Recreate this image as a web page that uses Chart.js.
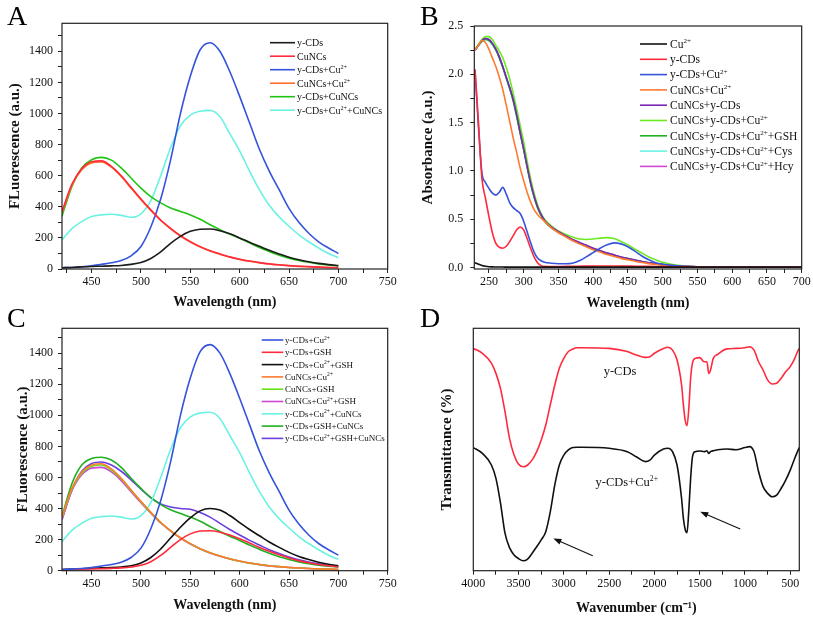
<!DOCTYPE html>
<html>
<head>
<meta charset="utf-8">
<script src="https://cdn.jsdelivr.net/npm/chart.js@4.4.1/dist/chart.umd.min.js"></script>
<style>
  body { margin: 0; background: #fff; }
  #page { position: relative; width: 813px; height: 617px; overflow: hidden; background: #fff; }
  #page canvas { position: absolute; left: 0; top: 0; }
  .tag { position: absolute; font-family: "Liberation Serif", serif; font-size: 28px; line-height: 28px; color: #000; }
</style>
</head>
<body>
<div id="page">
  <canvas id="chartA" width="813" height="617"></canvas>
  <canvas id="chartB" width="813" height="617"></canvas>
  <canvas id="chartC" width="813" height="617"></canvas>
  <canvas id="chartD" width="813" height="617"></canvas>
  <div class="tag" style="left:7px;top:2px">A</div>
  <div class="tag" style="left:420px;top:2px">B</div>
  <div class="tag" style="left:7px;top:304px">C</div>
  <div class="tag" style="left:420px;top:304px">D</div>
</div>
<script>
const SERIF = '"Liberation Serif", "Times New Roman", serif';

// ---- panel A: fluorescence, 420-700 nm ----
const aWave = [420,430,440,450,460,470,480,490,500,510,520,530,540,550,560,570,580,590,600,610,620,630,640,650,660,670,680,690,700];
const aLabels = ['y-CDs', 'CuNCs', 'y-CDs+Cu²⁺', 'CuNCs+Cu²⁺', 'y-CDs+CuNCs', 'y-CDs+Cu²⁺+CuNCs'];
const aCDs      = [8,10,13,16,18,20,23,30,42,68,110,165,210,242,256,257,246,226,200,172,146,120,97,76,60,47,36,28,22];
const aCuNCs    = [370,545,645,690,695,660,600,525,450,380,315,262,215,176,144,118,97,78,63,51,41,33,27,22,18,15,12,10,9];
const aCDsCu    = [8,10,14,20,30,40,55,85,145,270,450,700,1000,1240,1410,1455,1400,1270,1110,940,770,630,510,390,300,230,175,135,100];
const aCuNCsCu  = [360,538,638,682,688,655,595,520,446,376,312,258,212,174,142,116,95,77,62,50,40,32,26,21,17,14,12,10,8];
const aCDsCuNCs = [340,530,650,703,718,700,650,585,520,465,425,392,370,348,320,285,252,225,198,168,138,112,88,70,55,43,33,26,21];
const aAll      = [187,260,305,337,348,352,345,333,355,440,600,780,920,990,1015,1020,980,870,760,630,510,410,335,275,220,175,135,100,73];

// ---- panel B: absorbance ----
const bWave = [230,235,240,245,250,255,260,265,270,275,280,285,290,295,300,305,310,315,320,325,330,
               340,350,360,370,380,390,400,410,420,430,440,450,460,470,480,490,500,
               525,550,600,650,700];
const bLabels = ['Cu²⁺', 'y-CDs', 'y-CDs+Cu²⁺', 'CuNCs+Cu²⁺', 'CuNCs+y-CDs', 'CuNCs+y-CDs+Cu²⁺',
                 'CuNCs+y-CDs+Cu²⁺+GSH', 'CuNCs+y-CDs+Cu²⁺+Cys', 'CuNCs+y-CDs+Cu²⁺+Hcy'];
const bCu = [0.05,0.035,0.022,0.014,0.009,0.007,0.006,0.005,0.005,0.004,0.004,0.004,0.004,0.004,0.004,0.004,0.004,0.004,0.004,0.004,0.004,
             0.004,0.004,0.004,0.004,0.004,0.004,0.004,0.004,0.004,0.004,0.004,0.004,0.004,0.004,0.004,0.004,0.004,
             0.004,0.004,0.004,0.004,0.004];
const bCDs = [2.05,1.5,0.92,0.72,0.53,0.36,0.25,0.21,0.2,0.22,0.27,0.33,0.39,0.42,0.39,0.3,0.2,0.11,0.05,0.02,0.012,
              0.01,0.01,0.012,0.013,0.014,0.015,0.015,0.016,0.016,0.016,0.015,0.015,0.014,0.013,0.012,0.011,0.01,
              0.008,0.006,0.005,0.004,0.004];
const bCDsCu = [2.05,1.45,0.98,0.88,0.82,0.77,0.75,0.78,0.83,0.76,0.67,0.62,0.59,0.56,0.48,0.37,0.26,0.16,0.1,0.07,0.055,
                0.045,0.04,0.04,0.045,0.07,0.11,0.155,0.2,0.235,0.255,0.245,0.215,0.17,0.12,0.08,0.05,0.035,
                0.015,0.008,0.005,0.004,0.004];
const bCuNCsCu = [2.25,2.3,2.35,2.33,2.26,2.17,2.08,1.97,1.84,1.68,1.51,1.34,1.19,1.03,0.9,0.78,0.68,0.6,0.55,0.51,0.48,
                  0.41,0.36,0.32,0.28,0.245,0.215,0.185,0.16,0.135,0.115,0.095,0.08,0.065,0.052,0.041,0.032,0.025,
                  0.012,0.007,0.004,0.003,0.003];
const bCuNCsCDs = [2.25,2.3,2.35,2.37,2.36,2.32,2.26,2.18,2.08,1.97,1.86,1.74,1.58,1.4,1.23,1.05,0.88,0.74,0.63,0.55,0.49,
                   0.42,0.37,0.33,0.29,0.26,0.23,0.2,0.175,0.15,0.13,0.11,0.093,0.078,0.063,0.05,0.04,0.031,
                   0.015,0.008,0.004,0.003,0.003];
const bMix = [2.26,2.31,2.36,2.39,2.39,2.36,2.3,2.24,2.17,2.07,1.95,1.8,1.64,1.47,1.3,1.1,0.92,0.77,0.65,0.56,0.5,
              0.43,0.38,0.345,0.315,0.295,0.29,0.295,0.305,0.31,0.3,0.27,0.235,0.19,0.15,0.11,0.08,0.055,
              0.02,0.008,0.004,0.003,0.003];
const bMixGSH = [2.25,2.3,2.34,2.36,2.35,2.31,2.25,2.17,2.07,1.96,1.85,1.72,1.56,1.39,1.22,1.04,0.87,0.73,0.62,0.54,0.48,
                 0.41,0.365,0.325,0.285,0.255,0.225,0.195,0.17,0.145,0.125,0.105,0.09,0.075,0.06,0.048,0.038,0.03,
                 0.014,0.008,0.004,0.003,0.003];
const bMixCys = [2.25,2.3,2.34,2.36,2.35,2.31,2.25,2.17,2.07,1.96,1.85,1.73,1.57,1.39,1.22,1.04,0.87,0.73,0.62,0.54,0.48,
                 0.41,0.365,0.325,0.285,0.255,0.225,0.195,0.17,0.145,0.125,0.105,0.09,0.075,0.06,0.048,0.038,0.03,
                 0.014,0.008,0.004,0.003,0.003];
const bMixHcy = [2.25,2.3,2.35,2.37,2.36,2.32,2.26,2.18,2.08,1.97,1.86,1.74,1.58,1.4,1.23,1.05,0.88,0.74,0.63,0.55,0.49,
                 0.42,0.37,0.33,0.29,0.26,0.23,0.2,0.175,0.15,0.13,0.11,0.093,0.078,0.063,0.05,0.04,0.031,
                 0.015,0.008,0.004,0.003,0.003];

// ---- panel C: fluorescence with GSH ----
const cWave = aWave;
const cLabels = ['y-CDs+Cu²⁺', 'y-CDs+GSH', 'y-CDs+Cu²⁺+GSH', 'CuNCs+Cu²⁺', 'CuNCs+GSH', 'CuNCs+Cu²⁺+GSH',
                 'y-CDs+Cu²⁺+CuNCs', 'y-CDs+GSH+CuNCs', 'y-CDs+Cu²⁺+GSH+CuNCs'];
const cCDsCu       = [8,10,14,20,30,40,55,85,145,270,450,700,1000,1240,1410,1455,1400,1270,1110,940,770,630,510,390,300,230,175,135,100];
const cCDsGSH      = [5,7,9,11,13,15,18,24,35,58,98,150,200,237,255,257,248,230,205,178,150,125,102,82,65,51,40,32,25];
const cCDsCuGSH    = [8,10,13,16,18,20,24,32,50,85,140,210,280,340,385,400,390,355,310,265,225,185,150,118,92,72,55,42,32];
const cCuNCsCu     = [345,530,635,680,688,655,595,520,446,376,312,258,212,174,142,116,95,77,62,50,40,32,26,21,17,14,12,10,8];
const cCuNCsGSH    = [340,525,628,672,680,648,590,516,443,374,310,257,211,173,141,115,94,76,61,49,40,32,26,21,17,14,12,10,8];
const cCuNCsCuGSH  = [330,515,618,660,665,636,580,508,437,370,307,255,210,172,140,114,93,75,61,49,39,31,25,21,17,14,11,9,8];
const cCDsCuCuNCs  = [187,260,305,337,348,352,345,333,355,440,600,780,920,990,1015,1020,980,870,760,630,510,410,335,275,220,175,135,100,73];
const cCDsGSHCuNCs = [350,560,680,722,730,712,665,595,530,470,425,392,368,345,318,285,252,222,195,165,138,112,90,72,57,45,36,29,23];
const cAll         = [330,520,640,690,700,680,640,585,525,470,430,410,400,395,375,345,305,265,230,195,165,135,110,88,70,56,45,35,27];

// ---- panel D: FTIR (offset traces, arbitrary units) ----
const dWave = [4000,3900,3800,3750,3700,3650,3600,3550,3500,3450,3400,3350,3300,3250,3200,3150,3100,3050,3000,2950,
               2900,2850,2800,2500,2300,2200,2100,2050,2000,1900,1850,1800,1750,1700,1680,1660,1640,1620,1600,1580,
               1550,1500,1450,1420,1400,1380,1350,1300,1200,1100,1000,950,900,850,800,750,700,650,600,550,
               500,450,420,400];
const dLabels = ['y-CDs', 'y-CDs+Cu²⁺'];
const dCDs = [91.7,89.7,85.6,81.4,75.2,65.6,54.6,47.7,43.9,42.9,43.6,45.7,49.1,53.9,60.1,68.4,76.6,83.5,87.6,90.4,
              91.5,92.0,92.0,91.7,90.4,89.0,88.0,88.3,89.7,91.7,92.2,91.0,86.9,76.6,68.4,62.0,59.8,67.0,79.4,85.6,
              87.6,87.9,86.2,86.2,81.4,82.8,87.6,89.3,91.5,91.7,92.0,92.4,91.0,86.2,82.8,78.7,77.0,77.3,79.4,82.1,
              84.2,87.6,90.4,91.7];
const dCDsCu = [50.8,48.4,43.6,38.1,28.0,15.5,9.5,6.5,5.0,4.1,4.8,7.2,9.9,12.7,16.1,24.3,35.4,43.6,47.7,49.8,
                50.8,50.9,50.9,50.5,49.1,47.0,45.0,45.6,47.7,50.2,50.5,49.1,43.6,29.8,21.6,17.0,15.7,25.0,38.1,47.0,
                49.1,49.4,49.1,49.5,48.4,49.1,49.5,49.9,50.2,49.9,50.8,51.2,49.1,40.9,34.7,31.9,30.5,31.2,34.0,37.4,
                41.5,46.4,49.1,50.8];

// ---- helpers ----
const SUP = { '²': '2', '⁺': '+', '⁻': '-', '¹': '1' };

function runsOf(text) {
  const runs = [];
  for (const ch of text) {
    const sup = ch in SUP;
    const c = sup ? SUP[ch] : ch;
    if (runs.length && runs[runs.length - 1].sup === sup) runs[runs.length - 1].t += c;
    else runs.push({ t: c, sup: sup });
  }
  return runs;
}

function richWidth(ctx, text, size) {
  let w = 0;
  runsOf(text).forEach(r => {
    ctx.font = (r.sup ? size * 0.62 : size) + 'px ' + SERIF;
    w += ctx.measureText(r.t).width;
  });
  return w;
}

// draws text with small raised superscripts, y is the baseline
function richText(ctx, text, x, y, size) {
  ctx.textAlign = 'left';
  ctx.textBaseline = 'alphabetic';
  runsOf(text).forEach(r => {
    ctx.font = (r.sup ? size * 0.62 : size) + 'px ' + SERIF;
    ctx.fillText(r.t, x, r.sup ? y - size * 0.38 : y);
    x += ctx.measureText(r.t).width;
  });
}

function series(label, xs, ys, color) {
  return {
    label: label,
    data: xs.map((x, i) => ({ x: x, y: ys[i] })),
    borderColor: color,
    backgroundColor: color,
    borderWidth: 1.6,
    pointRadius: 0,
    cubicInterpolationMode: 'monotone',
    fill: false
  };
}

const frame = {
  id: 'frame',
  afterDraw(chart) {
    const { ctx, chartArea: a } = chart;
    ctx.save();
    ctx.strokeStyle = '#222';
    ctx.lineWidth = 1.2;
    ctx.strokeRect(a.left, a.top, a.right - a.left, a.bottom - a.top);
    ctx.restore();
  }
};

function makeLegend(o) {
  return {
    id: 'panelLegend',
    afterDraw(chart) {
      const ctx = chart.ctx;
      ctx.save();
      chart.data.datasets.forEach((ds, i) => {
        const y = o.y + i * o.row;
        ctx.strokeStyle = ds.borderColor;
        ctx.lineWidth = 1.6;
        ctx.beginPath();
        ctx.moveTo(o.x, y);
        ctx.lineTo(o.x + o.len, y);
        ctx.stroke();
        ctx.fillStyle = '#111';
        richText(ctx, ds.label, o.x + o.len + o.gap, y + o.size * 0.33, o.size);
      });
      ctx.restore();
    }
  };
}

function xAxis(o) {
  return {
    type: 'linear', min: o.min, max: o.max, reverse: !!o.reverse,
    afterFit: s => { s.height = o.h; },
    border: { display: false },
    grid: { drawOnChartArea: false, tickLength: 4, tickColor: '#222', tickWidth: 1 },
    ticks: {
      stepSize: o.step, autoSkip: false, maxRotation: 0, minRotation: 0, includeBounds: false,
      padding: 2, color: '#111', font: { family: SERIF, size: 12 },
      callback: v => (Math.round(v) % o.major === 0 ? String(v) : '')
    },
    title: { display: true, text: o.title, padding: 0, color: '#111', font: { family: SERIF, size: 14, weight: 'bold' } }
  };
}

function yAxis(o) {
  return {
    type: 'linear', min: o.min, max: o.max,
    afterFit: s => { s.width = o.w; },
    border: { display: false },
    grid: { display: o.ticks !== false, drawOnChartArea: false, tickLength: 4, tickColor: '#222', tickWidth: 1 },
    ticks: {
      display: o.ticks !== false,
      stepSize: o.step, autoSkip: false, includeBounds: false,
      padding: o.pad, color: '#111', font: { family: SERIF, size: 12 },
      callback: o.fmt
    },
    title: { display: true, text: o.title, padding: 0, color: '#111', font: { family: SERIF, size: 15, weight: 'bold' } }
  };
}

function makeChart(id, datasets, pad, x, y, plugins) {
  return new Chart(document.getElementById(id), {
    type: 'line',
    data: { datasets: datasets },
    options: {
      responsive: false,
      animation: false,
      devicePixelRatio: 1,
      layout: { padding: pad },
      plugins: { legend: { display: false }, tooltip: { enabled: false } },
      scales: { x: x, y: y }
    },
    plugins: [frame].concat(plugins)
  });
}

const fluorFmt = v => (Math.round(v) % 200 === 0 ? String(v) : '');

// A
makeChart('chartA', [
  series(aLabels[0], aWave, aCDs, '#1c1c1c'),
  series(aLabels[1], aWave, aCuNCs, '#ff2a3c'),
  series(aLabels[2], aWave, aCDsCu, '#3553dc'),
  series(aLabels[3], aWave, aCuNCsCu, '#ff6f2a'),
  series(aLabels[4], aWave, aCDsCuNCs, '#22c414'),
  series(aLabels[5], aWave, aAll, '#6af2e2')
], { left: 6.5, top: 23.3, right: 425.3, bottom: 306.6 },
  xAxis({ min: 420, max: 750, step: 25, major: 50, h: 41.4, title: 'Wavelength (nm)' }),
  yAxis({ min: 0, max: 1580, step: 100, w: 55.5, pad: 5, fmt: fluorFmt, title: 'FLuorescence (a.u.)' }),
  [makeLegend({ x: 270, y: 42.7, row: 13.5, len: 25, gap: 2, size: 10 })]);

// B
makeChart('chartB', [
  series(bLabels[0], bWave, bCu, '#111111'),
  series(bLabels[1], bWave, bCDs, '#ff2a3c'),
  series(bLabels[2], bWave, bCDsCu, '#3553dc'),
  series(bLabels[3], bWave, bCuNCsCu, '#ff7a30'),
  series(bLabels[4], bWave, bCuNCsCDs, '#7a28b4'),
  series(bLabels[5], bWave, bMix, '#6cea22'),
  series(bLabels[6], bWave, bMixGSH, '#20b020'),
  series(bLabels[7], bWave, bMixCys, '#6af2e2'),
  series(bLabels[8], bWave, bMixHcy, '#d048d0')
], { left: 419, top: 26, right: 11.3, bottom: 305.6 },
  xAxis({ min: 229, max: 700, step: 25, major: 50, h: 42.4, title: 'Wavelength (nm)' }),
  yAxis({ min: -0.015, max: 2.5, step: 0.25, w: 55.3, pad: 7,
          fmt: v => (Math.round(v * 100) % 50 === 0 ? v.toFixed(1) : ''), title: 'Absorbance (a.u.)' }),
  [makeLegend({ x: 640, y: 44, row: 15.3, len: 27, gap: 3, size: 11.5 })]);

// C
makeChart('chartC', [
  series(cLabels[0], cWave, cCDsCu, '#3553dc'),
  series(cLabels[1], cWave, cCDsGSH, '#ff2a3c'),
  series(cLabels[2], cWave, cCDsCuGSH, '#111111'),
  series(cLabels[3], cWave, cCuNCsCu, '#ff7a30'),
  series(cLabels[4], cWave, cCuNCsGSH, '#66e01a'),
  series(cLabels[5], cWave, cCuNCsCuGSH, '#cc48d0'),
  series(cLabels[6], cWave, cCDsCuCuNCs, '#6af2e2'),
  series(cLabels[7], cWave, cCDsGSHCuNCs, '#20b020'),
  series(cLabels[8], cWave, cAll, '#6a3ee0')
], { left: 14.3, top: 328.3, right: 425.3, bottom: 3.6 },
  xAxis({ min: 420, max: 750, step: 25, major: 50, h: 42.7, title: 'Wavelength (nm)' }),
  yAxis({ min: 0, max: 1560, step: 100, w: 47.7, pad: 5, fmt: fluorFmt, title: 'FLuorescence (a.u.)' }),
  [makeLegend({ x: 261.7, y: 340, row: 12.3, len: 21.6, gap: 1.7, size: 9 })]);

// D: trace labels and arrows sit at data coordinates
const dNotes = {
  id: 'notes',
  afterDatasetsDraw(chart) {
    const { ctx, scales: { x, y } } = chart;
    const labelsAt = [[2380, 82.4], [2305, 36.7]];
    const arrows = [[[2681, 6.2], [3116, 13.3]], [[1052, 17.2], [1494, 24.3]]];
    ctx.save();
    ctx.fillStyle = '#111';
    dLabels.forEach((t, i) => {
      const px = x.getPixelForValue(labelsAt[i][0]);
      const py = y.getPixelForValue(labelsAt[i][1]);
      richText(ctx, t, px - richWidth(ctx, t, 12.5) / 2, py + 4.5, 12.5);
    });
    ctx.strokeStyle = '#111';
    ctx.lineWidth = 1.1;
    arrows.forEach(([from, to]) => {
      const x0 = x.getPixelForValue(from[0]), y0 = y.getPixelForValue(from[1]);
      const x1 = x.getPixelForValue(to[0]), y1 = y.getPixelForValue(to[1]);
      const ang = Math.atan2(y1 - y0, x1 - x0);
      ctx.beginPath();
      ctx.moveTo(x0, y0);
      ctx.lineTo(x1 - 5 * Math.cos(ang), y1 - 5 * Math.sin(ang));
      ctx.stroke();
      ctx.beginPath();
      ctx.moveTo(x1, y1);
      ctx.lineTo(x1 - 8 * Math.cos(ang) + 3 * Math.sin(ang), y1 - 8 * Math.sin(ang) - 3 * Math.cos(ang));
      ctx.lineTo(x1 - 8 * Math.cos(ang) - 3 * Math.sin(ang), y1 - 8 * Math.sin(ang) + 3 * Math.cos(ang));
      ctx.closePath();
      ctx.fill();
    });
    ctx.restore();
  }
};

makeChart('chartD', [
  series(dLabels[0], dWave, dCDs, '#ff2a3c'),
  series(dLabels[1], dWave, dCDsCu, '#111111')
], { left: 437.7, top: 328.3, right: 13.7, bottom: 0.6 },
  xAxis({ min: 400, max: 4000, step: 250, major: 500, reverse: true, h: 45.7, title: 'Wavenumber (cm⁻¹)' }),
  yAxis({ min: 0, max: 100, w: 35.6, ticks: false, title: 'Transmittance (%)' }),
  [dNotes]);
</script>
</body>
</html>
